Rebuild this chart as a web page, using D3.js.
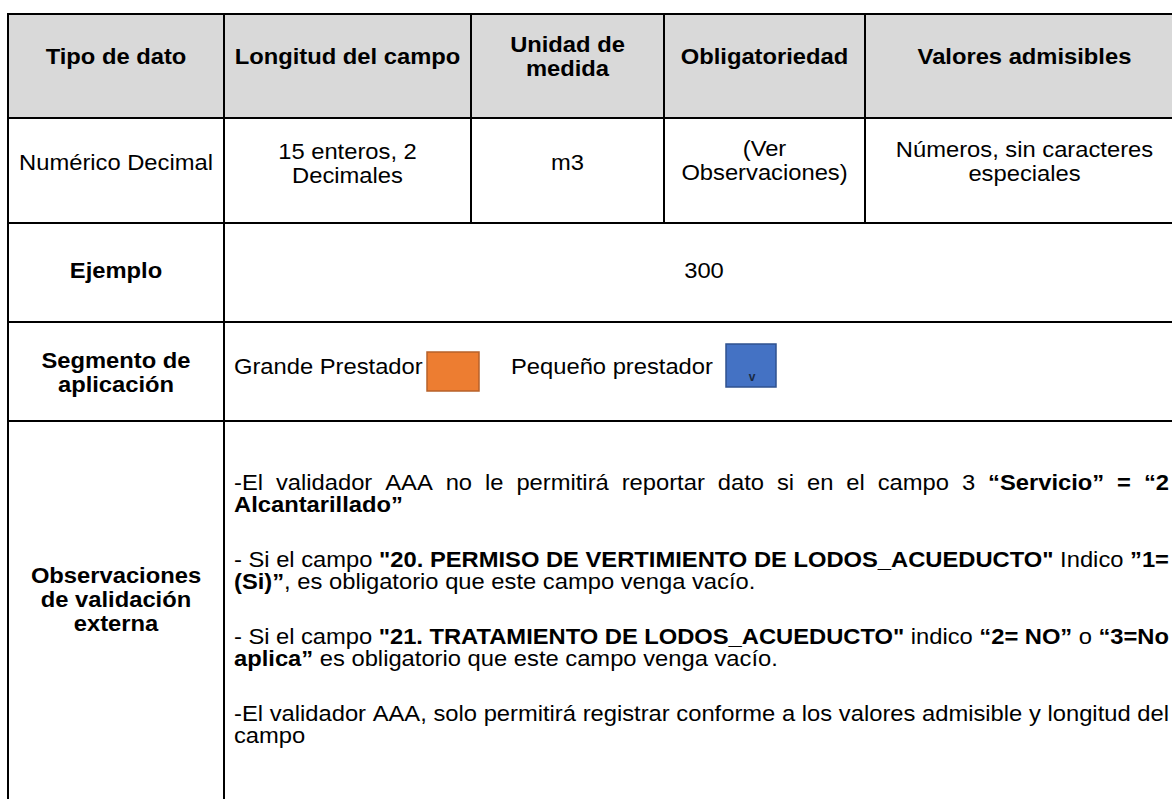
<!DOCTYPE html>
<html>
<head>
<meta charset="utf-8">
<script src="https://cdn.jsdelivr.net/npm/d3@7"></script>
<style>
  html, body { margin: 0; padding: 0; background: #fff; overflow: hidden; }
  svg { display: block; font-family: Arial, "Liberation Sans", sans-serif; }
</style>
</head>
<body>
<svg id="chart" width="1172" height="799"></svg>
<script>
// ---------- data ----------
const headers = [["Tipo de dato"], ["Longitud del campo"], ["Unidad de", "medida"], ["Obligatoriedad"], ["Valores admisibles"]];
const rowValues = [["Numérico Decimal"], ["15 enteros, 2", "Decimales"], ["m3"], ["(Ver", "Observaciones)"], ["Números, sin caracteres", "especiales"]];
const exampleLabel = ["Ejemplo"];
const exampleValue = "300";
const segmentLabel = ["Segmento de", "aplicación"];
const segmentItems = ["Grande Prestador", "Pequeño prestador"];
const segmentColors = ["#ED7D31", "#4472C4"];
const segmentStrokes = ["#B7612A", "#2F528F"];
const obsLabel = ["Observaciones", "de validación", "externa"];
// each paragraph: list of lines; each line: list of [text, bold]
const obsParagraphs = [
  [
    [["-El validador AAA no le permitirá reportar dato si en el campo 3 ", 0], ["“Servicio” = “2", 1]],
    [["Alcantarillado”", 1]]
  ],
  [
    [["- Si el campo ", 0], ["\"20. PERMISO DE VERTIMIENTO DE LODOS_ACUEDUCTO\"", 1], [" Indico ", 0], ["”1=", 1]],
    [["(Si)”", 1], [", es obligatorio que este campo venga vacío.", 0]]
  ],
  [
    [["- Si el campo ", 0], ["\"21. TRATAMIENTO DE LODOS_ACUEDUCTO\"", 1], [" indico ", 0], ["“2= NO”", 1], [" o ", 0], ["“3=No", 1]],
    [["aplica”", 1], [" es obligatorio que este campo venga vacío.", 0]]
  ],
  [
    [["-El validador AAA, solo permitirá registrar conforme a los valores admisible y longitud del", 0]],
    [["campo", 0]]
  ]
];

// ---------- layout ----------
const FS = 22, SX = 1.08, LH = 24;
const colEdges = [8, 224, 471, 664, 865, 1184];
const rowEdges = [14, 118, 223, 322, 421, 820];
const svg = d3.select("#chart");

const xCol = d3.scaleOrdinal().domain(d3.range(5)).range(d3.range(5).map(i => (colEdges[i] + colEdges[i + 1]) / 2));

// header fill
svg.append("rect").attr("x", colEdges[0]).attr("y", rowEdges[0])
  .attr("width", 1172 - colEdges[0]).attr("height", rowEdges[1] - rowEdges[0]).attr("fill", "#D9D9D9");

function centered(lines, cx, baseline, bold) {
  const n = lines.length;
  const first = baseline - (n - 1) * LH / 2;
  lines.forEach((t, i) => {
    svg.append("text")
      .attr("transform", `translate(${cx},${first + i * LH}) scale(${SX},1)`)
      .attr("text-anchor", "middle")
      .attr("font-size", FS)
      .attr("font-weight", bold ? "bold" : "normal")
      .attr("fill", "#000")
      .text(t);
  });
}

// header
headers.forEach((h, i) => centered(h, xCol(i), 64, true));
// row values
const rowBase = [170, 171, 170, 168, 169];
rowValues.forEach((v, i) => centered(v, xCol(i), rowBase[i], false));
// example
centered(exampleLabel, xCol(0), 278, true);
centered([exampleValue], (colEdges[1] + colEdges[5]) / 2, 278, false);
// segment
centered(segmentLabel, xCol(0), 380, true);
const segX = [234, 511];
const boxes = [{ x: 427, y: 352, w: 52, h: 39 }, { x: 726, y: 344, w: 50, h: 43 }];
segmentItems.forEach((t, i) => {
  svg.append("text").attr("transform", `translate(${segX[i]},374) scale(${SX},1)`)
    .attr("font-size", FS).attr("fill", "#000").text(t);
  svg.append("rect").attr("x", boxes[i].x).attr("y", boxes[i].y)
    .attr("width", boxes[i].w).attr("height", boxes[i].h)
    .attr("fill", segmentColors[i]).attr("stroke", segmentStrokes[i]).attr("stroke-width", 1.5);
});
svg.append("text").attr("x", 752).attr("y", 381).attr("text-anchor", "middle")
  .attr("font-size", 12).attr("font-weight", "bold").attr("fill", "#1a2a44").text("v");
// observations label
centered(obsLabel, xCol(0), 607, true);

// justified paragraphs
function tokenize(runs) {
  const words = []; let cur = [];
  runs.forEach(([t, b]) => {
    const parts = t.split(" ");
    parts.forEach((p, i) => {
      if (i > 0) { if (cur.length) words.push(cur); cur = []; }
      if (p) cur.push([p, b]);
    });
  });
  if (cur.length) words.push(cur);
  return words;
}
const textLeft = 234, textRight = 1169;
const spaceW = FS * 0.278;
obsParagraphs.forEach((para, pi) => {
  para.forEach((line, li) => {
    const y = 490 + pi * 77 + li * 22;
    const g = svg.append("g").attr("transform", `translate(${textLeft},${y}) scale(${SX},1)`);
    const words = tokenize(line);
    const nodes = words.map(w => {
      const t = g.append("text").attr("font-size", FS).attr("fill", "#000");
      w.forEach(([s, b]) => t.append("tspan").attr("font-weight", b ? "bold" : "normal").text(s));
      return t;
    });
    const widths = nodes.map(n => n.node().getComputedTextLength());
    const total = d3.sum(widths);
    const justify = li < para.length - 1 && words.length > 1;
    const gap = justify ? ((textRight - textLeft) / SX - total) / (words.length - 1) : spaceW;
    let x = 0;
    nodes.forEach((n, i) => { n.attr("x", x); x += widths[i] + gap; });
  });
});

// grid lines
const lineW = 2;
rowEdges.slice(0, 5).forEach(y => {
  svg.append("line").attr("x1", colEdges[0] - 1).attr("x2", 1172).attr("y1", y).attr("y2", y)
    .attr("stroke", "#000").attr("stroke-width", lineW);
});
svg.append("line").attr("x1", colEdges[0]).attr("x2", colEdges[0]).attr("y1", rowEdges[0]).attr("y2", 799)
  .attr("stroke", "#000").attr("stroke-width", lineW);
colEdges.slice(1, 5).forEach((x, i) => {
  svg.append("line").attr("x1", x).attr("x2", x).attr("y1", rowEdges[0])
    .attr("y2", i === 0 ? 799 : rowEdges[2])
    .attr("stroke", "#000").attr("stroke-width", lineW);
});
</script>
</body>
</html>
